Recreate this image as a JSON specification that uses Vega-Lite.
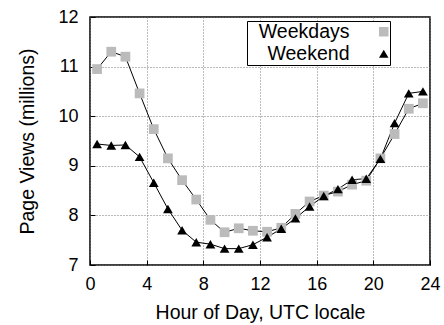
{
  "$schema": "https://vega.github.io/schema/vega-lite/v6.json",
  "width": 340,
  "height": 248,
  "autosize": {"type": "none"},
  "padding": {"left": 90, "top": 17, "right": 14, "bottom": 60},
  "config": {
    "font": "Liberation Sans",
    "view": {"stroke": "black", "strokeWidth": 1.5},
    "axis": {
      "labelFontSize": 18,
      "labelColor": "black",
      "titleFontSize": 19.5,
      "titleFontWeight": "normal",
      "titleColor": "black",
      "ticks": true,
      "tickSize": -5,
      "tickColor": "black",
      "domain": false,
      "grid": true,
      "gridColor": "#777777",
      "gridDash": [1, 2],
      "gridWidth": 1,
      "gridOpacity": 1
    }
  },
  "data": {
    "values": [
      {"hour": 0.5, "views": 10.95, "series": "Weekdays"},
      {"hour": 1.5, "views": 11.3, "series": "Weekdays"},
      {"hour": 2.5, "views": 11.2, "series": "Weekdays"},
      {"hour": 3.5, "views": 10.46, "series": "Weekdays"},
      {"hour": 4.5, "views": 9.74, "series": "Weekdays"},
      {"hour": 5.5, "views": 9.15, "series": "Weekdays"},
      {"hour": 6.5, "views": 8.71, "series": "Weekdays"},
      {"hour": 7.5, "views": 8.32, "series": "Weekdays"},
      {"hour": 8.5, "views": 7.91, "series": "Weekdays"},
      {"hour": 9.5, "views": 7.66, "series": "Weekdays"},
      {"hour": 10.5, "views": 7.74, "series": "Weekdays"},
      {"hour": 11.5, "views": 7.69, "series": "Weekdays"},
      {"hour": 12.5, "views": 7.67, "series": "Weekdays"},
      {"hour": 13.5, "views": 7.75, "series": "Weekdays"},
      {"hour": 14.5, "views": 8.03, "series": "Weekdays"},
      {"hour": 15.5, "views": 8.28, "series": "Weekdays"},
      {"hour": 16.5, "views": 8.4, "series": "Weekdays"},
      {"hour": 17.5, "views": 8.48, "series": "Weekdays"},
      {"hour": 18.5, "views": 8.62, "series": "Weekdays"},
      {"hour": 19.5, "views": 8.7, "series": "Weekdays"},
      {"hour": 20.5, "views": 9.15, "series": "Weekdays"},
      {"hour": 21.5, "views": 9.64, "series": "Weekdays"},
      {"hour": 22.5, "views": 10.15, "series": "Weekdays"},
      {"hour": 23.5, "views": 10.26, "series": "Weekdays"},
      {"hour": 0.5, "views": 9.44, "series": "Weekend"},
      {"hour": 1.5, "views": 9.41, "series": "Weekend"},
      {"hour": 2.5, "views": 9.42, "series": "Weekend"},
      {"hour": 3.5, "views": 9.18, "series": "Weekend"},
      {"hour": 4.5, "views": 8.66, "series": "Weekend"},
      {"hour": 5.5, "views": 8.13, "series": "Weekend"},
      {"hour": 6.5, "views": 7.7, "series": "Weekend"},
      {"hour": 7.5, "views": 7.46, "series": "Weekend"},
      {"hour": 8.5, "views": 7.42, "series": "Weekend"},
      {"hour": 9.5, "views": 7.33, "series": "Weekend"},
      {"hour": 10.5, "views": 7.33, "series": "Weekend"},
      {"hour": 11.5, "views": 7.41, "series": "Weekend"},
      {"hour": 12.5, "views": 7.56, "series": "Weekend"},
      {"hour": 13.5, "views": 7.73, "series": "Weekend"},
      {"hour": 14.5, "views": 7.94, "series": "Weekend"},
      {"hour": 15.5, "views": 8.18, "series": "Weekend"},
      {"hour": 16.5, "views": 8.39, "series": "Weekend"},
      {"hour": 17.5, "views": 8.53, "series": "Weekend"},
      {"hour": 18.5, "views": 8.72, "series": "Weekend"},
      {"hour": 19.5, "views": 8.74, "series": "Weekend"},
      {"hour": 20.5, "views": 9.14, "series": "Weekend"},
      {"hour": 21.5, "views": 9.86, "series": "Weekend"},
      {"hour": 22.5, "views": 10.46, "series": "Weekend"},
      {"hour": 23.5, "views": 10.5, "series": "Weekend"}
    ]
  },
  "encoding": {
    "x": {
      "field": "hour",
      "type": "quantitative",
      "title": "Hour of Day, UTC locale",
      "scale": {"domain": [0, 24], "nice": false, "zero": false},
      "axis": {"values": [0, 4, 8, 12, 16, 20, 24], "labelPadding": 15, "titlePadding": 10, "labelFlush": false}
    },
    "y": {
      "field": "views",
      "type": "quantitative",
      "title": "Page Views (millions)",
      "scale": {"domain": [7, 12], "nice": false, "zero": false},
      "axis": {"values": [7, 8, 9, 10, 11, 12], "labelPadding": 17, "titlePadding": 20}
    }
  },
  "layer": [
    {
      "mark": {"type": "line", "color": "black", "strokeWidth": 1},
      "encoding": {"detail": {"field": "series"}}
    },
    {
      "mark": {"type": "point", "filled": true, "opacity": 1, "size": 95},
      "encoding": {
        "color": {
          "field": "series",
          "type": "nominal",
          "scale": {"domain": ["Weekdays", "Weekend"], "range": ["#bbbbbb", "black"]},
          "legend": {
            "title": " ",
            "titleOrient": "left",
            "titleFontSize": 10,
            "titlePadding": 126,
            "orient": "none",
            "legendX": 157,
            "legendY": 4,
            "strokeColor": "black",
            "fillColor": "white",
            "padding": 1,
            "rowPadding": 1,
            "labelFontSize": 19.5,
            "labelColor": "black",
            "labelLimit": 400,
            "symbolSize": 90,
            "labelAlign": "right",
            "labelOffset": -44
          }
        },
        "shape": {
          "field": "series",
          "type": "nominal",
          "scale": {"domain": ["Weekdays", "Weekend"], "range": ["square", "triangle-up"]}
        }
      }
    }
  ]
}
